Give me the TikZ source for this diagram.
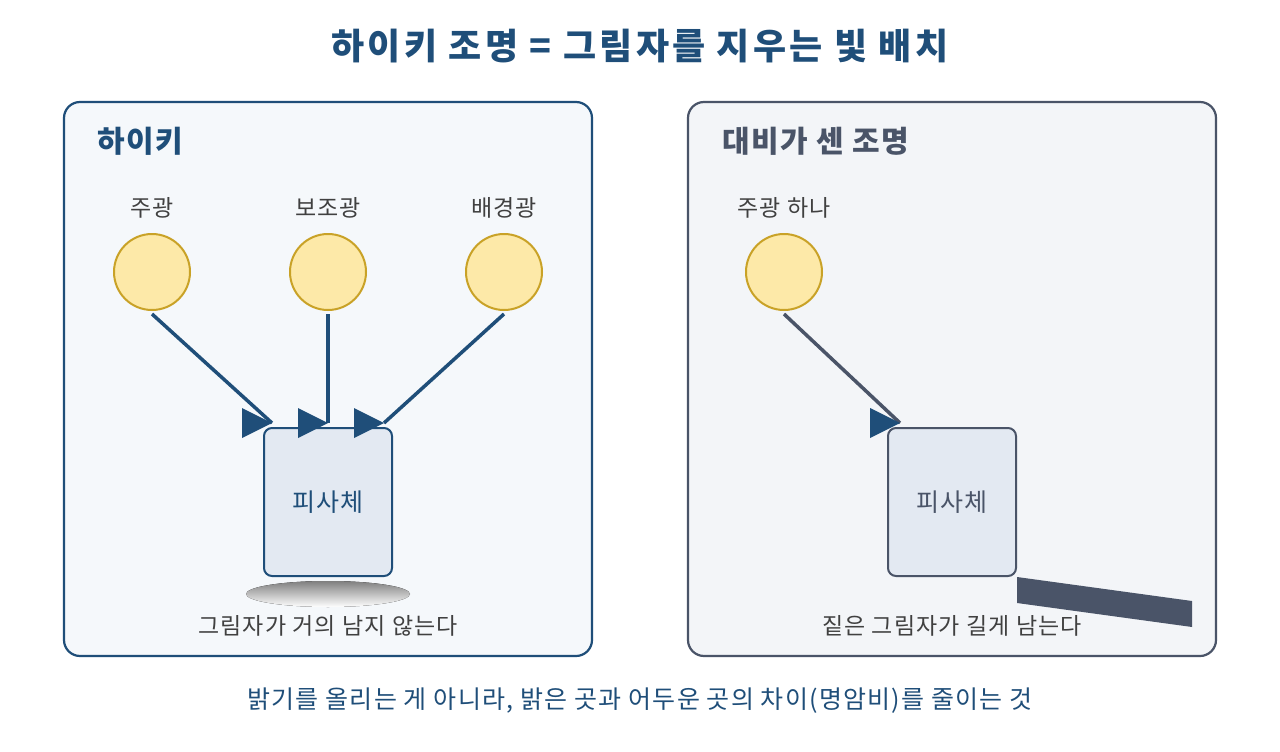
\documentclass[tikz,border=0pt]{standalone}
\usepackage{fontspec}
\setmainfont{Noto Sans CJK KR}
\definecolor{navy}{HTML}{1F4E79}
\definecolor{slate}{HTML}{4A5468}
\definecolor{sun}{HTML}{FDE9A8}
\definecolor{sunline}{HTML}{C9A227}
\definecolor{boxfill}{HTML}{E3E9F2}
\definecolor{lpanel}{HTML}{F5F8FB}
\definecolor{rpanel}{HTML}{F3F5F8}
\definecolor{shade}{HTML}{D5DDE7}
\newcommand{\myspc}[1]{\addfontfeature{LetterSpace=#1}}
\begin{document}
\begin{tikzpicture}[x=1pt,y=-1pt,
 panel/.style={draw,line width=2.2pt,rounded corners=16pt},
 lamp/.style={circle,draw=sunline,fill=sun,line width=2pt,minimum size=76pt,inner sep=0},
 lbl/.style={font=\fontsize{23}{26}\selectfont\myspc{5},text=black!75},
 box/.style={draw,fill=boxfill,line width=2pt,rounded corners=8pt,minimum width=128pt,minimum height=148pt,font=\fontsize{25}{28}\selectfont\myspc{5}},
 ray/.style={line width=3.5pt},
 head/.style={fill=navy}]
\useasboundingbox (0,0) rectangle (1280,752);
\fill[white] (0,0) rectangle (1280,752);
\node (title) at (640,46) {\fontsize{36}{40}\selectfont\bfseries\myspc{9}\color{navy}하이키 조명 = 그림자를 지우는 빛 배치};
% left
\draw[panel,draw=navy,fill=lpanel] (64,102) rectangle (592,656);
\node[anchor=west,text=navy,font=\fontsize{30}{34}\selectfont\bfseries\myspc{5}] (lh) at (94,141) {하이키};
\node[lbl] (l1) at (152,208) {주광};
\node[lbl] (l2) at (328,208) {보조광};
\node[lbl] (l3) at (504,208) {배경광};
\node[lamp] (c1) at (152,272) {};
\node[lamp] (c2) at (328,272) {};
\node[lamp] (c3) at (504,272) {};
\fill[shade] (328,594) ellipse (82 and 13);
\node[box,draw=navy,text=navy] (s1) at (328,502) {피사체};
\coordinate (a1) at (152,314); \coordinate (b1) at (272,423);
\coordinate (a2) at (328,314); \coordinate (b2) at (328,423);
\coordinate (a3) at (504,314); \coordinate (b3) at (384,423);
\draw[ray,navy] (a1) -- (b1);
\draw[ray,navy] (a2) -- (b2);
\draw[ray,navy] (a3) -- (b3);
\fill[head] (b1) -- ++(-30,-15) -- ++(0,30) -- cycle;
\fill[head] (b2) -- ++(-30,-15) -- ++(0,30) -- cycle;
\fill[head] (b3) -- ++(-30,-15) -- ++(0,30) -- cycle;
\node[lbl] (t1) at (328,626) {그림자가 거의 남지 않는다};
% right
\draw[panel,draw=slate,fill=rpanel] (688,102) rectangle (1216,656);
\node[anchor=west,text=slate,font=\fontsize{30}{34}\selectfont\bfseries\myspc{5}] (rh) at (719,141) {대비가 센 조명};
\node[lbl] (r1) at (784,208) {주광 하나};
\node[lamp] (c4) at (784,272) {};
\node[box,draw=slate,text=slate] (s2) at (952,502) {피사체};
\coordinate (a4) at (784,314); \coordinate (b4) at (900,423);
\draw[ray,slate] (a4) -- (b4);
\fill[head] (b4) -- ++(-30,-15) -- ++(0,30) -- cycle;
\fill[slate] (1017,577) -- (1192,601) -- (1192,627) -- (1017,603) -- cycle;
\node[lbl] (t2) at (952,626) {짙은 그림자가 길게 남는다};
\node[text=navy,font=\fontsize{25}{28}\selectfont\myspc{5}] (foot) at (640,701) {밝기를 올리는 게 아니라, 밝은 곳과 어두운 곳의 차이(명암비)를 줄이는 것};
\end{tikzpicture}
\end{document}
